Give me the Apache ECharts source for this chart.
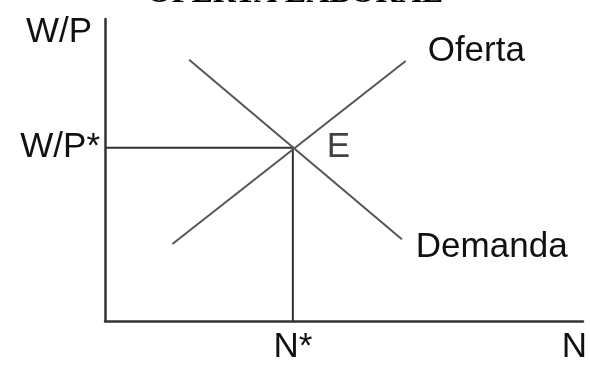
<!DOCTYPE html>
<html>
<head>
<meta charset="utf-8">
<script src="https://cdn.jsdelivr.net/npm/echarts@6/dist/echarts.min.js"></script>
<style>html,body{margin:0;padding:0;background:#fff}#c{width:590px;height:365px}</style>
</head>
<body>
<div id="c"></div>
<script>
const titleText = 'OFERTA LABORAL';
const equilibrium = [39.3, 57.4];          // [N*, W/P*]
const supplyCurve = [[14.1, 25.5], [62.9, 86.1]];
const demandCurve = [[17.6, 86.5], [62.1, 27.1]];
const xTickValues = [39.3];
const xTickLabels = ['N*'];
const yTickValues = [57.4];
const yTickLabels = ['W/P*'];
const xAxisName = 'N';
const yAxisName = 'W/P';
const supplyName = 'Oferta';
const demandName = 'Demanda';
const eqName = 'E';

const font = 'Liberation Sans, Arial, sans-serif';
const fs = 35;
const chart = echarts.init(document.getElementById('c'));
chart.setOption({
  animation: false,
  backgroundColor: '#fff',
  title: {
    text: titleText, left: 'center', top: -27,
    textStyle: {fontFamily: 'Liberation Serif, Times New Roman, serif', fontWeight: 'bold', fontSize: 32, color: '#000'}
  },
  grid: {left: 105, right: 2, top: 19, bottom: 36},
  xAxis: {
    type: 'value', min: 0, max: 100,
    splitLine: {show: false},
    axisLine: {lineStyle: {color: '#333', width: 2.5}},
    axisTick: {show: false},
    axisLabel: {
      customValues: xTickValues, margin: 9,
      formatter: v => xTickLabels[xTickValues.indexOf(v)] || '',
      fontFamily: font, fontSize: fs, color: '#111'
    },
    name: xAxisName, nameLocation: 'end', nameGap: 4,
    nameTextStyle: {fontFamily: font, fontSize: fs, color: '#111', align: 'right', verticalAlign: 'top', padding: [9, 0, 0, 0]}
  },
  yAxis: {
    type: 'value', min: 0, max: 100,
    splitLine: {show: false},
    axisLine: {lineStyle: {color: '#333', width: 2.5}},
    axisTick: {show: false},
    axisLabel: {
      customValues: yTickValues, margin: 5,
      formatter: v => yTickLabels[yTickValues.indexOf(v)] || '',
      fontFamily: font, fontSize: fs, color: '#111', padding: [6, 0, 0, 0]
    },
    name: yAxisName, nameLocation: 'end', nameGap: 4,
    nameTextStyle: {fontFamily: font, fontSize: fs, color: '#111', align: 'right', verticalAlign: 'top', padding: [0, 13, 0, 0]}
  },
  series: [
    {
      type: 'line', data: [[0, equilibrium[1]], equilibrium, [equilibrium[0], 0]],
      symbol: 'none', lineStyle: {color: '#333', width: 2}
    },
    {
      type: 'line', data: supplyCurve, symbol: 'none',
      lineStyle: {color: '#555', width: 2},
      endLabel: {show: true, formatter: supplyName, offset: [14, -10], fontFamily: font, fontSize: fs, color: '#111'}
    },
    {
      type: 'line', data: demandCurve, symbol: 'none',
      lineStyle: {color: '#555', width: 2},
      endLabel: {show: true, formatter: demandName, offset: [6, 8], fontFamily: font, fontSize: fs, color: '#111'}
    },
    {
      type: 'scatter', data: [equilibrium], symbolSize: 0,
      label: {show: true, position: 'right', distance: 34, formatter: eqName, fontFamily: font, fontSize: fs, color: '#111', padding: [4, 0, 0, 0]}
    }
  ]
});
</script>
</body>
</html>
